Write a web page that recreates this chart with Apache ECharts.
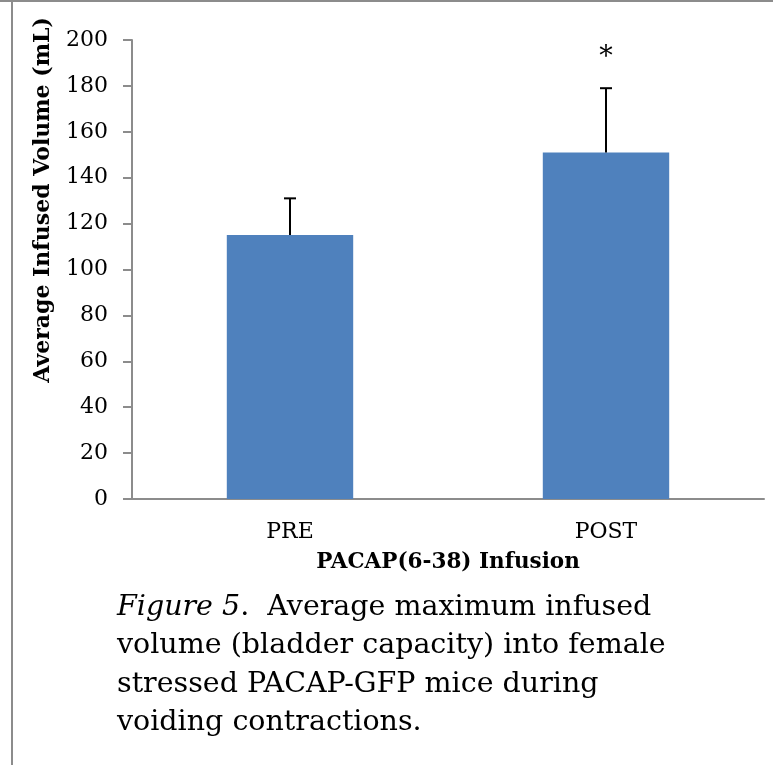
<!DOCTYPE html>
<html><head><meta charset="utf-8">
<script src="https://cdn.jsdelivr.net/npm/echarts@6/dist/echarts.min.js"></script>
<style>html,body{margin:0;padding:0;background:#fff}#c{width:773px;height:765px}</style>
</head><body><div id="c"></div>
<script>
const categories = ['PRE', 'POST'];
const means = [115, 151];
const errors = [16, 28];
const significance = ['', '*'];
const yTicks = [0, 20, 40, 60, 80, 100, 120, 140, 160, 180, 200];
const yAxisTitle = 'Average Infused Volume (mL)';
const xAxisTitle = 'PACAP(6-38) Infusion';
const captionLines = [
  ['{i|Figure 5}.  Average maximum infused'],
  ['volume (bladder capacity) into female'],
  ['stressed PACAP-GFP mice during'],
  ['voiding contractions.']
];

const FONT = '"DejaVu Serif", "Liberation Serif", serif';
const chart = echarts.init(document.getElementById('c'), null, {renderer: 'canvas'});

const errData = categories.map((c, i) => [i, means[i], means[i] + errors[i], significance[i]]);

chart.setOption({
  animation: false,
  backgroundColor: '#fff',
  grid: {left: 132, right: 9, top: 40, bottom: 266, containLabel: false},
  xAxis: {
    type: 'category', data: categories,
    axisLine: {lineStyle: {color: '#8c8c8c', width: 2}},
    axisTick: {show: false},
    axisLabel: {color: '#000', fontFamily: FONT, fontSize: 22, margin: 22},
    name: xAxisTitle, nameLocation: 'middle', nameGap: 52,
    nameTextStyle: {color: '#000', fontFamily: FONT, fontWeight: 'bold', fontSize: 21.5}
  },
  yAxis: {
    type: 'value', min: yTicks[0], max: yTicks[yTicks.length - 1], interval: 20,
    axisLine: {show: true, lineStyle: {color: '#8c8c8c', width: 2}},
    axisTick: {show: true, length: 9, inside: false, lineStyle: {color: '#8c8c8c', width: 2}},
    splitLine: {show: false},
    axisLabel: {color: '#000', fontFamily: FONT, fontSize: 22, margin: 24}
  },
  graphic: [
    {type: 'line', shape: {x1: 12, y1: 0, x2: 12, y2: 765}, style: {stroke: '#8c8c8c', lineWidth: 2}},
    {type: 'line', shape: {x1: 0, y1: 1, x2: 773, y2: 1}, style: {stroke: '#8c8c8c', lineWidth: 2}},
    {
      type: 'text', x: 43, y: 200, rotation: Math.PI / 2,
      style: {text: yAxisTitle, fill: '#000', font: 'bold 22px ' + FONT, textAlign: 'center', textVerticalAlign: 'middle'}
    },
    ...captionLines.map((l, k) => ({
      type: 'text', left: 117, top: 593 + k * 38.5,
      style: {
        text: l[0], fill: '#000', font: '28.5px ' + FONT,
        rich: {i: {fontStyle: 'italic', fontSize: 28.5, fontFamily: FONT, fill: '#000'}}
      }
    }))
  ],
  series: [
    {
      type: 'bar', data: means, barWidth: '40%',
      itemStyle: {color: '#4f81bd'}
    },
    {
      type: 'custom', data: errData, z: 5,
      renderItem: function (params, api) {
        const base = api.coord([api.value(0), api.value(1)]);
        const top = api.coord([api.value(0), api.value(2)]);
        const children = [
          {type: 'line', shape: {x1: base[0], y1: base[1], x2: top[0], y2: top[1]}, style: {stroke: '#000', lineWidth: 2}},
          {type: 'line', shape: {x1: top[0] - 6, y1: top[1], x2: top[0] + 6, y2: top[1]}, style: {stroke: '#000', lineWidth: 2}}
        ];
        const sig = significance[params.dataIndex];
        if (sig) {
          children.push({type: 'text', x: top[0], y: top[1] - 30, style: {text: sig, fill: '#000', font: '27px ' + FONT, textAlign: 'center', textVerticalAlign: 'middle'}});
        }
        return {type: 'group', children: children};
      }
    }
  ]
});
</script></body></html>
